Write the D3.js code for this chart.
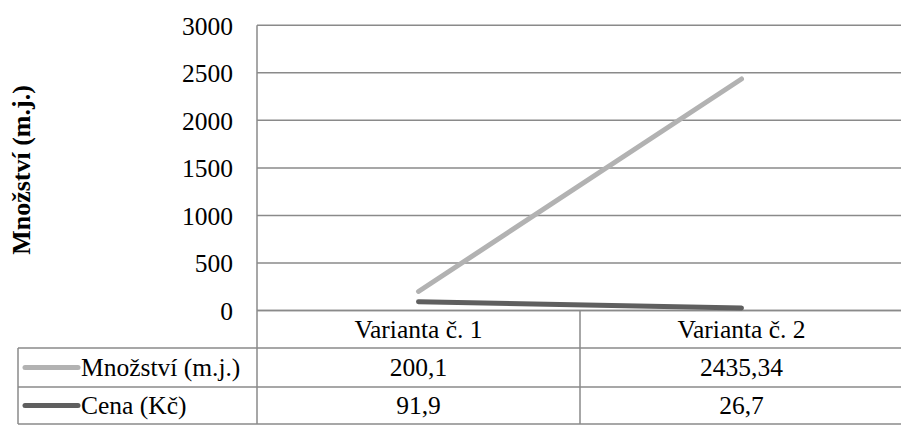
<!DOCTYPE html>
<html><head><meta charset="utf-8">
<script src="https://cdn.jsdelivr.net/npm/d3@7"></script>
<style>body{margin:0;background:#fff}svg{display:block}</style>
</head><body><svg id="c" width="901" height="426" font-family="Liberation Serif" style="font-family:'Liberation Serif','Times New Roman'"></svg>
<script>
const categories = ["Varianta č. 1", "Varianta č. 2"];
const mnozstvi = [200.1, 2435.34];
const cena = [91.9, 26.7];
const mnozstviLabels = ["200,1", "2435,34"];
const cenaLabels = ["91,9", "26,7"];
const yTicks = [0, 500, 1000, 1500, 2000, 2500, 3000];
const seriesNames = ["Množství (m.j.)", "Cena (Kč)"];
const seriesColors = ["#b2b2b2", "#5f5f5f"];
const yTitle = "Množství (m.j.)";

(function () {
const FAM = '"Liberation Serif", "Times New Roman"';
const svg = d3.select("#c");
const pLeft = 257, pRight = 903, pTop = 25.3, pBottom = 310.5;
const x = d3.scaleBand().domain(categories).range([pLeft, pRight]);
const y = d3.scaleLinear().domain([0, 3000]).range([pBottom, pTop]);
const grid = "#8a8a8a";
const fs = 25.5;
const serif = sel => sel.attr("font-family", "Liberation Serif")
  .style("font", `${fs}px ${FAM}`).attr("fill", "#000");

svg.append("g").selectAll("line").data(yTicks).join("line")
  .attr("x1", pLeft).attr("x2", pRight).attr("y1", d => y(d)).attr("y2", d => y(d))
  .attr("stroke", grid).attr("stroke-width", 1.5);

const yAxis = d3.axisLeft(y).tickValues(yTicks).tickSize(0).tickPadding(24).tickFormat(d3.format("d"));
const ga = svg.append("g").attr("transform", `translate(${pLeft},0)`).call(yAxis);
ga.attr("font-family", null).attr("font-size", null);
ga.select(".domain").remove();
ga.selectAll("text").call(serif).attr("dy", "0.35em");

svg.append("text").attr("transform", "translate(30,170) rotate(-90)")
  .attr("text-anchor", "middle").attr("font-family", "Liberation Serif")
  .style("font", `bold 26px ${FAM}`).text(yTitle);

const rowY = [pBottom, 348, 387, 424];
const tableLeft = 18;
const tg = svg.append("g").attr("stroke", grid).attr("stroke-width", 1.5);
tg.append("line").attr("x1", pLeft).attr("x2", pRight).attr("y1", rowY[0]).attr("y2", rowY[0]);
[1, 2, 3].forEach(i => tg.append("line").attr("x1", tableLeft).attr("x2", pRight).attr("y1", rowY[i]).attr("y2", rowY[i]));
tg.append("line").attr("x1", pLeft).attr("x2", pLeft).attr("y1", pTop).attr("y2", rowY[3]);
tg.append("line").attr("x1", tableLeft).attr("x2", tableLeft).attr("y1", rowY[1]).attr("y2", rowY[3]);
categories.forEach(c => tg.append("line").attr("x1", x(c) + x.bandwidth()).attr("x2", x(c) + x.bandwidth()).attr("y1", rowY[0]).attr("y2", rowY[3]));

// category labels
categories.forEach(c => {
  svg.append("text").attr("x", x(c) + x.bandwidth() / 2).attr("y", (rowY[0] + rowY[1]) / 2)
    .attr("text-anchor", "middle").attr("dy", "0.35em").call(serif).text(c);
});

const rows = [mnozstviLabels, cenaLabels];
rows.forEach((labels, r) => {
  const cy = (rowY[r + 1] + rowY[r + 2]) / 2;
  labels.forEach((lab, i) => {
    svg.append("text").attr("x", x(categories[i]) + x.bandwidth() / 2).attr("y", cy)
      .attr("text-anchor", "middle").attr("dy", "0.35em").call(serif).text(lab);
  });
  svg.append("line").attr("x1", 25).attr("x2", 78).attr("y1", cy).attr("y2", cy)
    .attr("stroke", seriesColors[r]).attr("stroke-width", 5).attr("stroke-linecap", "round");
  svg.append("text").attr("x", 81).attr("y", cy).attr("dy", "0.35em").call(serif).text(seriesNames[r]);
});

const line = d3.line().x((d, i) => x(categories[i]) + x.bandwidth() / 2).y(d => y(d));
[mnozstvi, cena].forEach((s, i) => {
  svg.append("path").attr("d", line(s)).attr("fill", "none")
    .attr("stroke", seriesColors[i]).attr("stroke-width", 5).attr("stroke-linecap", "round");
});
})();
</script></body></html>
